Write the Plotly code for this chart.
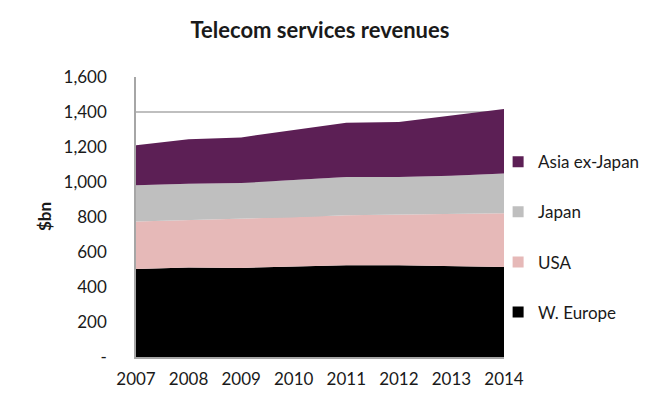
import plotly.graph_objects as go

years = [2007, 2008, 2009, 2010, 2011, 2012, 2013, 2014]
w_europe = [503, 512, 509, 516, 524, 524, 518, 514]
usa = [272, 271, 278, 282, 286, 289, 299, 307]
japan = [206, 207, 207, 213, 219, 216, 219, 227]
asia_ex_japan = [229, 254, 261, 288, 310, 314, 343, 369]

series_names = ["W. Europe", "USA", "Japan", "Asia ex-Japan"]
series_values = [w_europe, usa, japan, asia_ex_japan]
series_colors = ["#000000", "#E6B9B8", "#BFBFBF", "#5C1F55"]
legend_rank = [4, 3, 2, 1]

y_tickvals = [0, 200, 400, 600, 800, 1000, 1200, 1400, 1600]
y_ticktext = ["-", "200", "400", "600", "800", "1,000", "1,200", "1,400", "1,600"]

FONT = "Lato, 'Open Sans', sans-serif"

fig = go.Figure()
for name, vals, col in zip(series_names, series_values, series_colors):
    fig.add_trace(go.Scatter(
        x=years, y=vals, name=name, mode="lines",
        stackgroup="one", line=dict(width=0, color=col),
        fillcolor=col, legendgroup=name, showlegend=False,
        hovertemplate="%{x}: %{y}<extra>" + name + "</extra>",
    ))
# legend entries (square keys)
for name, col, rank in zip(series_names, series_colors, legend_rank):
    fig.add_trace(go.Scatter(
        x=[None], y=[None], name=name, mode="markers",
        marker=dict(symbol="square", size=11, color=col),
        legendgroup=name, legendrank=rank, showlegend=True,
    ))

fig.update_layout(
    width=664, height=398,
    margin=dict(l=128, r=168, t=69, b=49),
    paper_bgcolor="white", plot_bgcolor="white",
    font=dict(family=FONT, color="#1a1a1a", size=17),
    showlegend=True,
    legend=dict(
        traceorder="grouped", tracegroupgap=25,
        x=0.984, xanchor="left", y=0.76, yanchor="top",
        font=dict(size=17, family=FONT, color="#1a1a1a"),
        itemwidth=30, bgcolor="rgba(0,0,0,0)",
    ),
    title=dict(
        text="<b>Telecom services revenues</b>",
        x=0.5, xanchor="center", xref="paper",
        y=1 - 22 / 398, yanchor="middle",
        font=dict(size=22, family=FONT, color="#1a1a1a"),
    ),
    xaxis=dict(
        range=[2007, 2014], tickvals=years, ticktext=[str(y) for y in years],
        showgrid=False, zeroline=False,
        showline=True, linecolor="#A6A6A6", linewidth=1.5,
        ticks="", ticklabelstandoff=6,
        tickfont=dict(size=17),
    ),
    yaxis=dict(
        range=[0, 1600], tickvals=y_tickvals, ticktext=y_ticktext,
        showgrid=True, gridcolor="#BFBFBF", gridwidth=1.5,
        zeroline=False,
        showline=True, linecolor="#A6A6A6", linewidth=1.5,
        ticks="", ticklabelstandoff=24,
        tickfont=dict(size=17),
    ),
    annotations=[dict(
        text="<b>$bn</b>", xref="paper", yref="paper",
        x=(36 - 128) / 368, y=(349 - 209) / 280,
        xanchor="center", yanchor="middle", textangle=-90,
        showarrow=False, font=dict(size=17, family=FONT, color="#1a1a1a"),
    )],
)

fig.write_html("out.html")
